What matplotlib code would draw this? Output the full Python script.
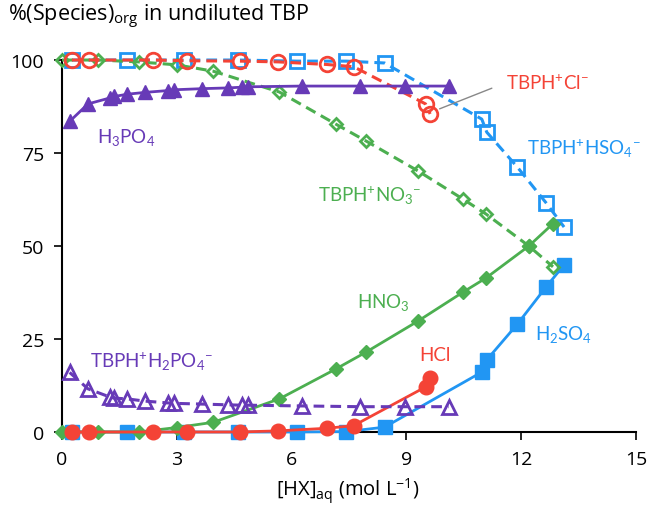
import matplotlib
matplotlib.use("Agg")
import matplotlib.pyplot as plt

plt.rcParams['font.family'] = ['Open Sans', 'DejaVu Sans']
plt.rcParams['mathtext.fontset'] = 'custom'
plt.rcParams['mathtext.rm'] = 'Lato'
plt.rcParams['mathtext.it'] = 'Lato:italic'
plt.rcParams['mathtext.sf'] = 'Open Sans'
plt.rcParams['mathtext.default'] = 'regular'

PURPLE = '#673AB7'
GREEN = '#4CAF50'
RED = '#F44336'
BLUE = '#2196F3'

# H3PO4 system
x_p = [0.2, 0.68, 1.25, 1.37, 1.7, 2.17, 2.78, 2.93, 3.66, 4.34, 4.7, 4.86, 6.27, 7.78, 8.96, 10.1]
h3po4 = [83.5, 88.2, 89.8, 90.2, 90.8, 91.3, 91.8, 92.0, 92.3, 92.5, 92.7, 92.8, 93.0, 93.0, 93.0, 93.0]
tbph_h2po4 = [16.0, 11.6, 9.4, 9.1, 8.9, 8.3, 7.8, 7.7, 7.5, 7.3, 7.2, 7.2, 7.0, 6.8, 6.8, 6.8]

# HNO3 system
x_n = [0.0, 0.95, 2.0, 3.0, 3.95, 5.68, 7.15, 7.95, 9.3, 10.48, 11.08, 12.2, 12.83]
hno3 = [0.0, 0.0, 0.0, 1.2, 2.6, 8.9, 16.9, 21.5, 29.8, 37.6, 41.4, 50.0, 56.0]
tbph_no3 = [100.0, 100.0, 99.5, 98.7, 97.0, 91.4, 82.8, 78.2, 70.2, 62.6, 58.6, 50.0, 44.4]

# HCl system
x_c = [0.26, 0.7, 2.38, 3.27, 4.65, 5.65, 6.92, 7.62, 9.5, 9.62]
hcl = [0.0, 0.0, 0.0, 0.0, 0.0, 0.3, 1.0, 1.7, 12.1, 14.6]
tbph_cl = [100.0, 100.0, 100.0, 99.8, 99.7, 99.5, 98.8, 98.2, 88.2, 85.5]

# H2SO4 system
x_s = [0.26, 1.7, 3.2, 4.6, 6.14, 7.43, 8.43, 10.97, 11.1, 11.9, 12.65, 13.12]
h2so4 = [0.0, 0.0, 0.0, 0.0, 0.0, 0.1, 1.3, 16.1, 19.4, 29.0, 39.0, 44.9]
tbph_hso4 = [100.0, 100.0, 100.0, 100.0, 99.7, 99.7, 99.2, 84.1, 80.6, 71.2, 61.6, 55.1]

fig = plt.figure(figsize=(6.49, 5.06), dpi=100)
ax = fig.add_axes([0.0955, 0.1443, 0.8845, 0.7351])

dash = (3.5, 2.0)

# blue
ax.plot(x_s, tbph_hso4, color=BLUE, lw=2.2, dashes=dash, marker='s', ms=10,
        mfc='none', mec=BLUE, mew=2.0, clip_on=False, zorder=3)
ax.plot(x_s, h2so4, color=BLUE, lw=2.0, marker='s', ms=10, mfc=BLUE, mec=BLUE,
        clip_on=False, zorder=3)
# green
ax.plot(x_n, tbph_no3, color=GREEN, lw=2.2, dashes=dash, marker='D', ms=6.5,
        mfc='none', mec=GREEN, mew=2.0, clip_on=False, zorder=4)
ax.plot(x_n, hno3, color=GREEN, lw=2.0, marker='D', ms=7, mfc=GREEN, mec=GREEN,
        clip_on=False, zorder=4)
# red
ax.plot(x_c, tbph_cl, color=RED, lw=2.2, dashes=dash, marker='o', ms=10.5,
        mfc='none', mec=RED, mew=2.0, clip_on=False, zorder=5)
ax.plot(x_c, hcl, color=RED, lw=2.0, marker='o', ms=10.5, mfc=RED, mec=RED,
        clip_on=False, zorder=5)
# purple
ax.plot(x_p, tbph_h2po4, color=PURPLE, lw=2.2, dashes=dash, marker='^', ms=10,
        mfc='none', mec=PURPLE, mew=2.0, clip_on=False, zorder=6)
ax.plot(x_p, h3po4, color=PURPLE, lw=2.0, marker='^', ms=10, mfc=PURPLE, mec=PURPLE,
        clip_on=False, zorder=6)

lfs = 13.5
lab = dict(fontsize=lfs, va='baseline', fontfamily='Lato')
ax.text(11.6, 92.2, 'TBPH$^{+}$Cl$^{-}$', color=RED, **lab)
ax.annotate('', xy=(9.8, 86.6), xytext=(11.3, 92.7),
            arrowprops=dict(arrowstyle='-', color='#888888', lw=1.0))
ax.text(12.15, 74.7, 'TBPH$^{+}$HSO$_{4}$$^{-}$', color=BLUE, **lab)
ax.text(6.69, 62.1, 'TBPH$^{+}$NO$_{3}$$^{-}$', color=GREEN, **lab)
ax.text(0.91, 78.0, 'H$_{3}$PO$_{4}$', color=PURPLE, **lab)
ax.text(0.73, 17.5, 'TBPH$^{+}$H$_{2}$PO$_{4}$$^{-}$', color=PURPLE, **lab)
ax.text(9.33, 19.4, 'HCl', color=RED, **lab)
ax.text(7.71, 33.6, 'HNO$_{3}$', color=GREEN, **lab)
ax.text(12.36, 25.0, 'H$_{2}$SO$_{4}$', color=BLUE, **lab)

fs = 14
ax.set_xlim(0, 15)
ax.set_ylim(0, 100)
ax.set_xticks([0, 3, 6, 9, 12, 15])
ax.set_yticks([0, 25, 50, 75, 100])
for s in ['top', 'right']:
    ax.spines[s].set_visible(False)
for s in ['left', 'bottom']:
    ax.spines[s].set_linewidth(1.5)
ax.tick_params(axis='both', labelsize=fs, width=1.2, length=6, direction='out')
ax.tick_params(axis='x', pad=7)
ax.tick_params(axis='y', pad=7)

fig.text(0.012, 0.966, r'$\mathsf{\%(Species)}_{\mathsf{org}}\mathsf{\ in\ undiluted\ TBP}$',
         fontsize=15.5, va='center')
fig.text(0.536, 0.03, r'$\mathsf{[HX]}_{\mathsf{aq}}\mathsf{\ (mol\ L}^{\mathsf{-1}}\mathsf{)}$',
         fontsize=14.5, ha='center', va='center')

fig.savefig('out.png', dpi=100)
